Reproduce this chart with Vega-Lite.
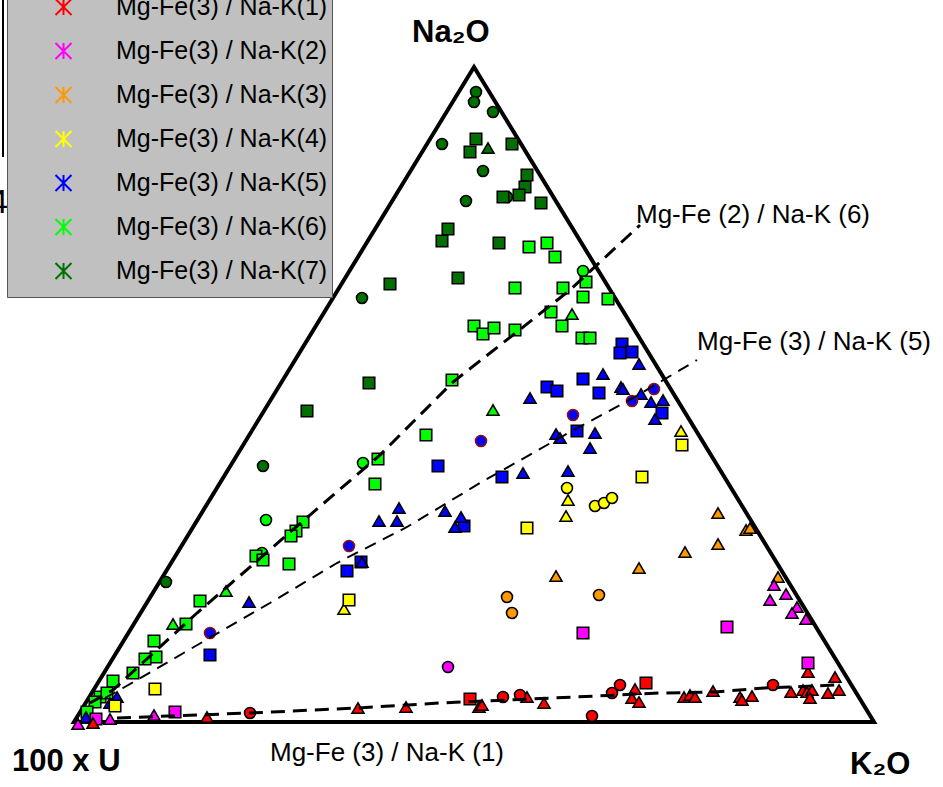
{
  "$schema": "https://vega.github.io/schema/vega-lite/v6.json",
  "width": 943,
  "height": 787,
  "padding": 0,
  "autosize": {"type": "none"},
  "background": "white",
  "config": {"view": {"stroke": null}, "font": "Liberation Sans"},
  "datasets": {
    "tri": [
      {"o": 0, "u": 400, "v": 0}, {"o": 1, "u": 800, "v": 0}, {"o": 2, "u": 400, "v": 655}, {"o": 3, "u": 0, "v": 0}, {"o": 4, "u": 400, "v": 0}
    ],
    "deco": [{"u": -71, "v": 565, "v2": 730}],
    "curves": [
      {"c": "1", "o": 0, "u": 43, "v": 4}, {"c": "1", "o": 1, "u": 176, "v": 9}, {"c": "1", "o": 2, "u": 284, "v": 14}, {"c": "1", "o": 3, "u": 366, "v": 19}, {"c": "1", "o": 4, "u": 501, "v": 25}, {"c": "1", "o": 5, "u": 586, "v": 29}, {"c": "1", "o": 6, "u": 641, "v": 30}, {"c": "1", "o": 7, "u": 691, "v": 34}, {"c": "1", "o": 8, "u": 716, "v": 35}, {"c": "1", "o": 9, "u": 761, "v": 37},
      {"c": "6", "o": 0, "u": 16, "v": 19}, {"c": "6", "o": 1, "u": 39, "v": 32}, {"c": "6", "o": 2, "u": 123, "v": 109}, {"c": "6", "o": 3, "u": 153, "v": 135}, {"c": "6", "o": 4, "u": 229, "v": 201}, {"c": "6", "o": 5, "u": 306, "v": 267}, {"c": "6", "o": 6, "u": 379, "v": 340}, {"c": "6", "o": 7, "u": 439, "v": 387}, {"c": "6", "o": 8, "u": 496, "v": 432}, {"c": "6", "o": 9, "u": 566, "v": 497},
      {"c": "5", "o": 0, "u": 31, "v": 24}, {"c": "5", "o": 1, "u": 49, "v": 34}, {"c": "5", "o": 2, "u": 196, "v": 119}, {"c": "5", "o": 3, "u": 263, "v": 159}, {"c": "5", "o": 4, "u": 333, "v": 195}, {"c": "5", "o": 5, "u": 406, "v": 239}, {"c": "5", "o": 6, "u": 496, "v": 290}, {"c": "5", "o": 7, "u": 559, "v": 324}, {"c": "5", "o": 8, "u": 623, "v": 362}
    ],
    "notes": [
      {"u": 562, "v": 499, "t": "Mg-Fe (2) / Na-K (6)"},
      {"u": 623, "v": 372, "t": "Mg-Fe (3) / Na-K (5)"},
      {"u": 196, "v": -39, "t": "Mg-Fe (3) / Na-K (1)"}
    ],
    "corners": [
      {"u": 338, "v": 680, "t": "Na₂O"},
      {"u": -62, "v": -49, "t": "100 x U"},
      {"u": 776, "v": -52, "t": "K₂O"}
    ],
    "bg": [{"u": -85, "v": 509, "t": "4"}],
    "groups": [{"g": "1"}, {"g": "2"}, {"g": "3"}, {"g": "4"}, {"g": "5"}, {"g": "6"}, {"g": "7"}],
    "pts": [
      {"g": "6", "m": "circle", "u": 509, "v": 451}, {"g": "6", "m": "circle", "u": 289, "v": 259}, {"g": "6", "m": "circle", "u": 192, "v": 202}, {"g": "6", "m": "circle", "u": 188, "v": 169},
      {"g": "6", "m": "square", "u": 455, "v": 475}, {"g": "6", "m": "square", "u": 473, "v": 479}, {"g": "6", "m": "square", "u": 481, "v": 465}, {"g": "6", "m": "square", "u": 512, "v": 440}, {"g": "6", "m": "square", "u": 489, "v": 434}, {"g": "6", "m": "square", "u": 441, "v": 434}, {"g": "6", "m": "square", "u": 509, "v": 425}, {"g": "6", "m": "square", "u": 534, "v": 423}, {"g": "6", "m": "square", "u": 477, "v": 410}, {"g": "6", "m": "square", "u": 488, "v": 396}, {"g": "6", "m": "square", "u": 400, "v": 396}, {"g": "6", "m": "square", "u": 409, "v": 388}, {"g": "6", "m": "square", "u": 420, "v": 394}, {"g": "6", "m": "square", "u": 441, "v": 392}, {"g": "6", "m": "square", "u": 508, "v": 384}, {"g": "6", "m": "square", "u": 516, "v": 384}, {"g": "6", "m": "square", "u": 378, "v": 342}, {"g": "6", "m": "square", "u": 352, "v": 287}, {"g": "6", "m": "square", "u": 304, "v": 263}, {"g": "6", "m": "square", "u": 301, "v": 238}, {"g": "6", "m": "square", "u": 229, "v": 200}, {"g": "6", "m": "square", "u": 222, "v": 191}, {"g": "6", "m": "square", "u": 217, "v": 186}, {"g": "6", "m": "square", "u": 182, "v": 166}, {"g": "6", "m": "square", "u": 189, "v": 162}, {"g": "6", "m": "square", "u": 215, "v": 158}, {"g": "6", "m": "square", "u": 126, "v": 121}, {"g": "6", "m": "square", "u": 112, "v": 98}, {"g": "6", "m": "square", "u": 80, "v": 81}, {"g": "6", "m": "square", "u": 82, "v": 65}, {"g": "6", "m": "square", "u": 71, "v": 63}, {"g": "6", "m": "square", "u": 59, "v": 49}, {"g": "6", "m": "square", "u": 39, "v": 41}, {"g": "6", "m": "square", "u": 26, "v": 25}, {"g": "6", "m": "square", "u": 33, "v": 29}, {"g": "6", "m": "square", "u": 21, "v": 20}, {"g": "6", "m": "square", "u": 13, "v": 10},
      {"g": "6", "m": "triangle", "u": 498, "v": 408}, {"g": "6", "m": "triangle", "u": 419, "v": 312}, {"g": "6", "m": "triangle", "u": 152, "v": 131}, {"g": "6", "m": "triangle", "u": 99, "v": 98},
      {"g": "7", "m": "circle", "u": 402, "v": 630}, {"g": "7", "m": "circle", "u": 400, "v": 620}, {"g": "7", "m": "circle", "u": 419, "v": 610}, {"g": "7", "m": "circle", "u": 368, "v": 578}, {"g": "7", "m": "circle", "u": 409, "v": 551}, {"g": "7", "m": "circle", "u": 392, "v": 521}, {"g": "7", "m": "circle", "u": 288, "v": 424}, {"g": "7", "m": "circle", "u": 189, "v": 256}, {"g": "7", "m": "circle", "u": 92, "v": 140}, {"g": "7", "m": "circle", "u": 433, "v": 525},
      {"g": "7", "m": "square", "u": 402, "v": 583}, {"g": "7", "m": "square", "u": 396, "v": 570}, {"g": "7", "m": "square", "u": 438, "v": 578}, {"g": "7", "m": "square", "u": 453, "v": 547}, {"g": "7", "m": "square", "u": 451, "v": 535}, {"g": "7", "m": "square", "u": 445, "v": 527}, {"g": "7", "m": "square", "u": 429, "v": 525}, {"g": "7", "m": "square", "u": 467, "v": 519}, {"g": "7", "m": "square", "u": 374, "v": 493}, {"g": "7", "m": "square", "u": 368, "v": 481}, {"g": "7", "m": "square", "u": 425, "v": 479}, {"g": "7", "m": "square", "u": 384, "v": 444}, {"g": "7", "m": "square", "u": 316, "v": 438}, {"g": "7", "m": "square", "u": 295, "v": 339}, {"g": "7", "m": "square", "u": 233, "v": 311},
      {"g": "7", "m": "triangle", "u": 414, "v": 574},
      {"g": "5", "m": "square", "u": 548, "v": 378}, {"g": "5", "m": "square", "u": 546, "v": 369}, {"g": "5", "m": "square", "u": 558, "v": 370}, {"g": "5", "m": "square", "u": 509, "v": 343}, {"g": "5", "m": "square", "u": 473, "v": 335}, {"g": "5", "m": "square", "u": 483, "v": 331}, {"g": "5", "m": "square", "u": 525, "v": 329}, {"g": "5", "m": "square", "u": 588, "v": 309}, {"g": "5", "m": "square", "u": 503, "v": 291}, {"g": "5", "m": "square", "u": 428, "v": 245}, {"g": "5", "m": "square", "u": 364, "v": 256}, {"g": "5", "m": "square", "u": 390, "v": 196}, {"g": "5", "m": "square", "u": 287, "v": 160}, {"g": "5", "m": "square", "u": 273, "v": 151}, {"g": "5", "m": "square", "u": 136, "v": 67},
      {"g": "5", "m": "triangle", "u": 565, "v": 358}, {"g": "5", "m": "triangle", "u": 529, "v": 348}, {"g": "5", "m": "triangle", "u": 456, "v": 324}, {"g": "5", "m": "triangle", "u": 547, "v": 335}, {"g": "5", "m": "triangle", "u": 549, "v": 333}, {"g": "5", "m": "triangle", "u": 567, "v": 328}, {"g": "5", "m": "triangle", "u": 577, "v": 320}, {"g": "5", "m": "triangle", "u": 589, "v": 322}, {"g": "5", "m": "triangle", "u": 581, "v": 303}, {"g": "5", "m": "triangle", "u": 482, "v": 288}, {"g": "5", "m": "triangle", "u": 486, "v": 284}, {"g": "5", "m": "triangle", "u": 521, "v": 289}, {"g": "5", "m": "triangle", "u": 516, "v": 274}, {"g": "5", "m": "triangle", "u": 449, "v": 249}, {"g": "5", "m": "triangle", "u": 494, "v": 251}, {"g": "5", "m": "triangle", "u": 325, "v": 214}, {"g": "5", "m": "triangle", "u": 305, "v": 201}, {"g": "5", "m": "triangle", "u": 323, "v": 201}, {"g": "5", "m": "triangle", "u": 371, "v": 211}, {"g": "5", "m": "triangle", "u": 387, "v": 205}, {"g": "5", "m": "triangle", "u": 381, "v": 195}, {"g": "5", "m": "triangle", "u": 288, "v": 160}, {"g": "5", "m": "triangle", "u": 175, "v": 120}, {"g": "5", "m": "triangle", "u": 43, "v": 25}, {"g": "5", "m": "triangle", "u": 36, "v": 19}, {"g": "5", "m": "triangle", "u": 12, "v": 5},
      {"g": "5", "m": "circle", "u": 580, "v": 333}, {"g": "5", "m": "circle", "u": 558, "v": 321}, {"g": "5", "m": "circle", "u": 499, "v": 307}, {"g": "5", "m": "circle", "u": 407, "v": 281}, {"g": "5", "m": "circle", "u": 275, "v": 176}, {"g": "5", "m": "circle", "u": 136, "v": 89},
      {"g": "4", "m": "circle", "u": 493, "v": 234}, {"g": "4", "m": "circle", "u": 521, "v": 216}, {"g": "4", "m": "circle", "u": 530, "v": 219}, {"g": "4", "m": "circle", "u": 538, "v": 224},
      {"g": "4", "m": "triangle", "u": 494, "v": 222}, {"g": "4", "m": "triangle", "u": 492, "v": 206}, {"g": "4", "m": "triangle", "u": 607, "v": 291}, {"g": "4", "m": "triangle", "u": 270, "v": 113},
      {"g": "4", "m": "square", "u": 568, "v": 245}, {"g": "4", "m": "square", "u": 453, "v": 194}, {"g": "4", "m": "square", "u": 608, "v": 277}, {"g": "4", "m": "square", "u": 275, "v": 122}, {"g": "4", "m": "square", "u": 81, "v": 33}, {"g": "4", "m": "square", "u": 41, "v": 16},
      {"g": "3", "m": "triangle", "u": 482, "v": 146}, {"g": "3", "m": "triangle", "u": 565, "v": 154}, {"g": "3", "m": "triangle", "u": 644, "v": 209}, {"g": "3", "m": "triangle", "u": 672, "v": 192}, {"g": "3", "m": "triangle", "u": 676, "v": 194}, {"g": "3", "m": "triangle", "u": 644, "v": 178}, {"g": "3", "m": "triangle", "u": 611, "v": 170}, {"g": "3", "m": "triangle", "u": 704, "v": 145},
      {"g": "3", "m": "circle", "u": 433, "v": 125}, {"g": "3", "m": "circle", "u": 438, "v": 109}, {"g": "3", "m": "circle", "u": 525, "v": 127},
      {"g": "2", "m": "triangle", "u": 700, "v": 137}, {"g": "2", "m": "triangle", "u": 712, "v": 128}, {"g": "2", "m": "triangle", "u": 696, "v": 122}, {"g": "2", "m": "triangle", "u": 723, "v": 115}, {"g": "2", "m": "triangle", "u": 718, "v": 109}, {"g": "2", "m": "triangle", "u": 732, "v": 103}, {"g": "2", "m": "triangle", "u": 80, "v": 7}, {"g": "2", "m": "triangle", "u": 36, "v": 3}, {"g": "2", "m": "triangle", "u": 4, "v": -2},
      {"g": "2", "m": "square", "u": 653, "v": 95}, {"g": "2", "m": "square", "u": 509, "v": 89}, {"g": "2", "m": "square", "u": 101, "v": 10}, {"g": "2", "m": "square", "u": 22, "v": 3},
      {"g": "2", "m": "circle", "u": 374, "v": 55},
      {"g": "1", "m": "triangle", "u": 133, "v": 5}, {"g": "1", "m": "triangle", "u": 284, "v": 14}, {"g": "1", "m": "triangle", "u": 332, "v": 15}, {"g": "1", "m": "triangle", "u": 19, "v": -1}, {"g": "1", "m": "triangle", "u": 405, "v": 15}, {"g": "1", "m": "triangle", "u": 408, "v": 17}, {"g": "1", "m": "triangle", "u": 453, "v": 25}, {"g": "1", "m": "triangle", "u": 470, "v": 19}, {"g": "1", "m": "triangle", "u": 561, "v": 33}, {"g": "1", "m": "triangle", "u": 558, "v": 24}, {"g": "1", "m": "triangle", "u": 565, "v": 20}, {"g": "1", "m": "triangle", "u": 610, "v": 25}, {"g": "1", "m": "triangle", "u": 616, "v": 27}, {"g": "1", "m": "triangle", "u": 621, "v": 25}, {"g": "1", "m": "triangle", "u": 639, "v": 31}, {"g": "1", "m": "triangle", "u": 666, "v": 25}, {"g": "1", "m": "triangle", "u": 668, "v": 22}, {"g": "1", "m": "triangle", "u": 678, "v": 26}, {"g": "1", "m": "triangle", "u": 717, "v": 30}, {"g": "1", "m": "triangle", "u": 734, "v": 50}, {"g": "1", "m": "triangle", "u": 729, "v": 32}, {"g": "1", "m": "triangle", "u": 733, "v": 30}, {"g": "1", "m": "triangle", "u": 738, "v": 32}, {"g": "1", "m": "triangle", "u": 736, "v": 24}, {"g": "1", "m": "triangle", "u": 754, "v": 29}, {"g": "1", "m": "triangle", "u": 761, "v": 45}, {"g": "1", "m": "triangle", "u": 765, "v": 32},
      {"g": "1", "m": "circle", "u": 176, "v": 9}, {"g": "1", "m": "circle", "u": 429, "v": 25}, {"g": "1", "m": "circle", "u": 446, "v": 27}, {"g": "1", "m": "circle", "u": 518, "v": 6}, {"g": "1", "m": "circle", "u": 538, "v": 29}, {"g": "1", "m": "circle", "u": 546, "v": 37}, {"g": "1", "m": "circle", "u": 699, "v": 37},
      {"g": "1", "m": "square", "u": 396, "v": 23}, {"g": "1", "m": "square", "u": 572, "v": 39},
      {"g": "2", "m": "square", "u": 734, "v": 59}
    ]
  },
  "encoding": {
    "x": {"field": "u", "type": "quantitative", "scale": {"domain": [-74, 869], "nice": false, "zero": false}, "axis": null},
    "y": {"field": "v", "type": "quantitative", "scale": {"domain": [-65, 722], "nice": false, "zero": false}, "axis": null}
  },
  "layer": [
    {
      "data": {"name": "deco"},
      "mark": {"type": "rule", "color": "black", "strokeWidth": 2},
      "encoding": {"y2": {"field": "v2"}}
    },
    {
      "data": {"name": "bg"},
      "mark": {"type": "text", "align": "left", "baseline": "alphabetic", "fontSize": 34, "font": "Liberation Sans", "color": "black"},
      "encoding": {"text": {"field": "t"}}
    },
    {
      "data": {"name": "tri"},
      "mark": {"type": "line", "color": "black", "strokeWidth": 4, "strokeJoin": "miter"},
      "encoding": {"order": {"field": "o", "type": "quantitative"}}
    },
    {
      "data": {"name": "groups"},
      "mark": {"type": "point", "filled": false, "opacity": 0, "shape": "M-1,-1L1,1M-1,1L1,-1M0,-1L0,1"},
      "encoding": {
        "x": {"datum": 0},
        "y": {"datum": 0},
        "stroke": {
          "field": "g", "type": "nominal",
          "scale": {"domain": ["1", "2", "3", "4", "5", "6", "7"], "range": ["#ff0000", "#ff00ff", "#ff9900", "#ffff00", "#0000ff", "#00ff00", "#007000"]},
          "legend": {
            "orient": "none", "legendX": 7, "legendY": -19, "title": null,
            "fillColor": "#c0c0c0", "strokeColor": "#555555", "padding": 4,
            "symbolType": "M-1,-1L1,1M-1,1L1,-1M0,-1L0,1", "symbolSize": 256, "symbolStrokeWidth": 2, "symbolOpacity": 1,
            "symbolOffset": 40, "labelOffset": 40, "labelFontSize": 25, "labelFont": "Liberation Sans", "labelColor": "black",
            "clipHeight": 44, "rowPadding": 0, "labelLimit": 400,
            "labelExpr": "'Mg-Fe(3) / Na-K(' + datum.label + ')'",
            "encode": {"symbols": {"opacity": {"value": 1}, "strokeOpacity": {"value": 1}}}
          }
        }
      }
    },
    {
      "data": {"name": "pts"},
      "mark": {"type": "point", "filled": true, "opacity": 1, "strokeWidth": 1.6},
      "encoding": {
        "color": {
          "field": "g", "type": "nominal",
          "scale": {"domain": ["1", "2", "3", "4", "5", "6", "7"], "range": ["#ff0000", "#ff00ff", "#ff9900", "#ffff00", "#0000ff", "#00ff00", "#007000"]},
          "legend": null
        },
        "shape": {"field": "m", "type": "nominal", "scale": {"domain": ["circle", "square", "triangle"], "range": ["circle", "square", "triangle-up"]}, "legend": null},
        "size": {"field": "m", "type": "nominal", "scale": {"domain": ["circle", "square", "triangle"], "range": [120, 144, 210]}, "legend": null},
        "stroke": {"condition": {"test": "datum.g === '5' && datum.m === 'circle'", "value": "#8b1010"}, "value": "#000000"}
      }
    },
    {
      "data": {"name": "curves"},
      "transform": [{"filter": "datum.c !== '5'"}],
      "mark": {"type": "line", "color": "black", "strokeWidth": 3, "strokeDash": [14, 8]},
      "encoding": {"detail": {"field": "c"}, "order": {"field": "o", "type": "quantitative"}}
    },
    {
      "data": {"name": "curves"},
      "transform": [{"filter": "datum.c === '5'"}],
      "mark": {"type": "line", "color": "black", "strokeWidth": 2, "strokeDash": [12, 8]},
      "encoding": {"detail": {"field": "c"}, "order": {"field": "o", "type": "quantitative"}}
    },
    {
      "data": {"name": "notes"},
      "mark": {"type": "text", "align": "left", "baseline": "alphabetic", "fontSize": 26, "font": "Liberation Sans", "color": "black"},
      "encoding": {"text": {"field": "t"}}
    },
    {
      "data": {"name": "corners"},
      "mark": {"type": "text", "align": "left", "baseline": "alphabetic", "fontSize": 31, "fontWeight": "bold", "font": "Liberation Sans", "color": "black"},
      "encoding": {"text": {"field": "t"}}
    }
  ]
}
